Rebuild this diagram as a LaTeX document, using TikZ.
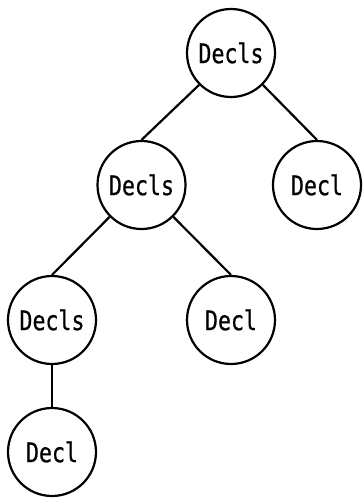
\documentclass[tikz,border=0pt]{standalone}
\usepackage{fontspec}
\newfontfamily\treefont[FakeStretch=0.8,FakeBold=0.6]{DejaVu Sans Mono}
\begin{document}
\begin{tikzpicture}[x=1pt,y=-1pt,
  treenode/.style={circle,draw=black,line width=2.2pt,fill=white,
    minimum size=88pt,inner sep=0pt,font=\treefont\fontsize{27}{30}\selectfont},
  treeedge/.style={line width=2.2pt}]
  \useasboundingbox (0,0) rectangle (363,498);
  % nodes of the declaration tree
  \node[treenode] (root)  at (231,53)    {Decls};
  \node[treenode] (mid)   at (141.5,185) {Decls};
  \node[treenode] (rdecl) at (317,185)   {Decl};
  \node[treenode] (low)   at (52,320)    {Decls};
  \node[treenode] (mdecl) at (231,320)   {Decl};
  \node[treenode] (bdecl) at (52,452)    {Decl};
  % connections from a parent's lower side to the top of each child
  \draw[treeedge] (root.south west) -- (mid.north);
  \draw[treeedge] (root.south east) -- (rdecl.north);
  \draw[treeedge] (mid.south west) -- (low.north);
  \draw[treeedge] (mid.south east) -- (mdecl.north);
  \draw[treeedge] (low.south) -- (bdecl.north);
\end{tikzpicture}
\end{document}
